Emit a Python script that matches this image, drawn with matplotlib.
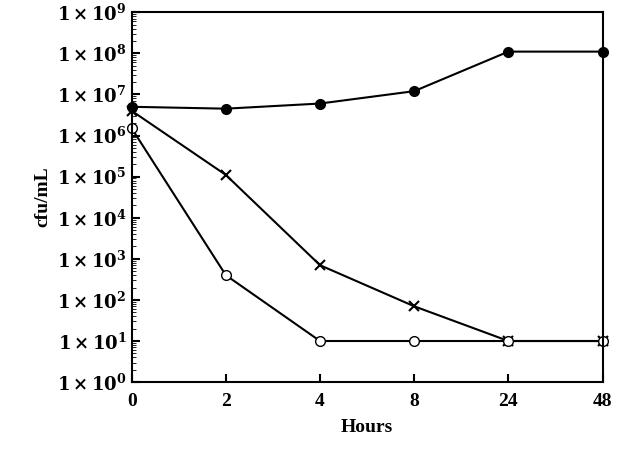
import matplotlib
matplotlib.use("Agg")
import matplotlib.pyplot as plt

hours = ["0", "2", "4", "8", "24", "48"]
filled = [5e6, 4.5e6, 6e6, 1.2e7, 1.1e8, 1.1e8]
crosses = [4e6, 1.1e5, 7e2, 7e1, 1e1, 1e1]
opens = [1.5e6, 4e2, 1e1, 1e1, 1e1, 1e1]

plt.rcParams['font.family'] = ['Liberation Serif', 'DejaVu Serif']
plt.rcParams['mathtext.fontset'] = 'dejavuserif'
fig = plt.figure(figsize=(6.18, 4.70), dpi=100)
ax = fig.add_axes([0.213, 0.187, 0.762, 0.787])
x = list(range(len(hours)))
ax.plot(x, filled, 'k-', marker='o', ms=7, mfc='black', lw=1.5, clip_on=False)
ax.plot(x, crosses, 'k-', marker='x', ms=7, mew=1.5, lw=1.5, clip_on=False)
ax.plot(x, opens, 'k-', marker='o', ms=7, mfc='white', lw=1.5, clip_on=False)
ax.set_yscale('log')
ax.set_ylim(1, 1e9)
ax.set_xlim(0, 5)
ax.set_xticks(x)
ax.set_xticklabels(hours, fontsize=14, fontweight='bold')
ax.set_yticks([10**i for i in range(10)])
ax.set_yticklabels([r'$\mathbf{1\times10^{%d}}$' % i for i in range(10)], fontsize=13)
ax.tick_params(direction='in', length=6, width=1.5)
ax.tick_params(axis='x', pad=8)
ax.tick_params(which='minor', direction='in', length=3)
for s in ax.spines.values():
    s.set_linewidth(1.5)
ax.set_xlabel('Hours', fontsize=14, fontweight='bold', labelpad=6)
ax.set_ylabel('cfu/mL', fontsize=14, fontweight='bold')
fig.savefig('out.png', dpi=100)
